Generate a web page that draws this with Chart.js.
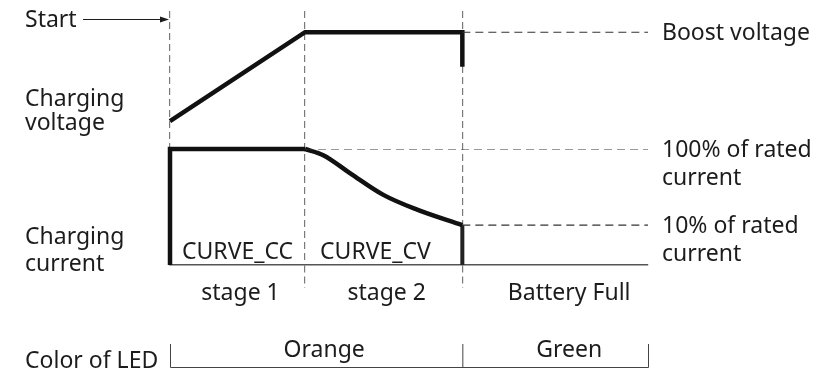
<!DOCTYPE html>
<html>
<head>
<meta charset="utf-8">
<title>Charging curve</title>
<script src="https://cdn.jsdelivr.net/npm/chart.js@4"></script>
<style>
  html, body { margin: 0; padding: 0; background: #fff; }
  canvas { display: block; }
</style>
</head>
<body>
<canvas id="chargeChart" width="834" height="372"></canvas>
<script>
// --- Data ---
// stage boundaries on the time axis (hours)
const stageEdges = [0, 2, 4.33];
const timeEnd = 7.08;
const stageNames = ['stage 1', 'stage 2', 'Battery Full'];
const curveNames = ['CURVE_CC', 'CURVE_CV'];
const ledNames = ['Orange', 'Green'];

// charging voltage (V)
const voltTimes = [0, 2, 4.33, 4.33];
const voltValues = [11.05, 14.4, 14.4, 13.1];
const boostVoltage = 14.4;

// charging current (% of rated), log scale so the floor is 3 %
const ccTimes = [0, 0, 2];
const ccValues = [3, 100, 100];
const cvTimes = [2, 2.27, 2.67, 3.16, 3.66, 4.33];
const cvValues = [100, 83, 48, 25, 16, 10];
const endTimes = [4.33, 4.33];
const endValues = [10, 3];
const currentLevels = [100, 10];

const pts = (xs, ys) => xs.map((x, i) => ({ x: x, y: ys[i] }));

const INK = '#1c1c1c';
const LINE = '#111';
const FONT = '23px "Noto Sans"';

// solid curve dataset
function curve(data, axis, extra) {
    return Object.assign({
        data: data,
        yAxisID: axis,
        borderColor: LINE,
        borderWidth: 4.5,
        pointRadius: 0,
        tension: 0,
        borderJoinStyle: 'miter',
        borderCapStyle: 'butt',
        clip: 6,
        fill: false
    }, extra || {});
}

// thin dashed reference line out to the right edge
function guide(from, value, axis) {
    return {
        data: pts([from, timeEnd], [value, value]),
        yAxisID: axis,
        borderColor: '#333',
        borderWidth: 1.2,
        borderDash: [8, 5],
        pointRadius: 0,
        fill: false
    };
}

// --- Text, arrow and LED bracket ---
const labelPlugin = {
    id: 'chargeLabels',
    afterDraw(chart) {
        const { ctx, chartArea: area, scales: { x, yV, yI } } = chart;
        const left = 25;
        const edgePx = stageEdges.map(v => x.getPixelForValue(v));
        const endPx = x.getPixelForValue(timeEnd);

        ctx.save();
        ctx.fillStyle = INK;
        ctx.strokeStyle = INK;
        ctx.font = FONT;
        ctx.textBaseline = 'alphabetic';
        ctx.textAlign = 'left';

        // Start arrow
        ctx.fillText('Start', left, area.top + 16);
        const ay = area.top + 8;
        ctx.lineWidth = 1;
        ctx.beginPath();
        ctx.moveTo(83, ay + 0.5);
        ctx.lineTo(edgePx[0] - 8, ay + 0.5);
        ctx.stroke();
        ctx.beginPath();
        ctx.moveTo(edgePx[0] - 1, ay + 0.5);
        ctx.lineTo(edgePx[0] - 10, ay - 2.5);
        ctx.lineTo(edgePx[0] - 10, ay + 3.5);
        ctx.closePath();
        ctx.fill();

        // axis titles on the left
        const vy = yV.getPixelForValue(voltValues[0]);
        ctx.fillText('Charging', left, vy - 15);
        ctx.fillText('voltage', left, vy + 9);
        ctx.fillText('Charging', left, area.bottom - 21);
        ctx.fillText('current', left, area.bottom + 6);

        // levels on the right
        const rx = area.right + 14;
        ctx.fillText('Boost voltage', rx, yV.getPixelForValue(boostVoltage) + 8);
        currentLevels.forEach(level => {
            const py = yI.getPixelForValue(level);
            ctx.fillText(level + '% of rated', rx, py + 8);
            ctx.fillText('current', rx, py + 36);
        });

        // curve names inside each stage
        ctx.fillText(curveNames[0], edgePx[0] + 12, area.bottom - 6);
        ctx.fillText(curveNames[1], edgePx[1] + 15, area.bottom - 6);

        // stage names under the axis
        ctx.textAlign = 'center';
        const bounds = edgePx.concat([endPx]);
        stageNames.forEach((name, i) => {
            const cx = (bounds[i] + bounds[i + 1]) / 2 + (i === 2 ? 14 : 3);
            ctx.fillText(name, cx, area.bottom + 35);
        });

        // LED colour bracket
        const top = area.bottom + 79;
        const base = area.bottom + 102;
        ctx.strokeStyle = '#444';
        ctx.lineWidth = 1;
        ctx.beginPath();
        ctx.moveTo(edgePx[0] + 0.5, top);
        ctx.lineTo(edgePx[0] + 0.5, base + 0.5);
        ctx.lineTo(endPx + 0.5, base + 0.5);
        ctx.lineTo(endPx + 0.5, top);
        ctx.moveTo(edgePx[2] + 0.5, top);
        ctx.lineTo(edgePx[2] + 0.5, base);
        ctx.stroke();

        ctx.fillText(ledNames[0], (edgePx[0] + edgePx[2]) / 2 + 8, area.bottom + 92);
        ctx.fillText(ledNames[1], (edgePx[2] + endPx) / 2 + 14, area.bottom + 92);
        ctx.textAlign = 'left';
        ctx.fillText('Color of LED', left, base + 1);
        ctx.restore();
    }
};

// --- Chart ---
const ctx = document.getElementById('chargeChart').getContext('2d');
const chargeChart = new Chart(ctx, {
    type: 'line',
    data: {
        datasets: [
            guide(stageEdges[2], boostVoltage, 'yV'),
            guide(stageEdges[1], currentLevels[0], 'yI'),
            guide(stageEdges[2], currentLevels[1], 'yI'),
            curve(pts(voltTimes, voltValues), 'yV'),
            curve(pts(ccTimes, ccValues), 'yI'),
            curve(pts(cvTimes, cvValues), 'yI', { cubicInterpolationMode: 'monotone' }),
            curve(pts(endTimes, endValues), 'yI', { borderColor: '#222', borderWidth: 4 })
        ]
    },
    options: {
        responsive: false,
        animation: false,
        layout: { padding: { left: 170, right: 186, top: 11, bottom: 84 } },
        plugins: { legend: { display: false }, tooltip: { enabled: false } },
        scales: {
            x: {
                type: 'linear',
                min: 0,
                max: timeEnd,
                afterBuildTicks: axis => { axis.ticks = stageEdges.map(v => ({ value: v })); },
                ticks: { display: false },
                grid: {
                    color: '#7a7a7a',
                    lineWidth: 1.2,
                    tickLength: 23,
                    tickColor: c => c.index === 0 ? 'rgba(0,0,0,0)' : '#7a7a7a',
                    tickBorderDash: [7, 4]
                },
                border: { display: true, color: '#555', width: 1.5, dash: [7, 4] }
            },
            yI: {
                type: 'logarithmic',
                min: 3,
                max: 100,
                position: 'left',
                stack: 'panels',
                stackWeight: 116,
                ticks: { display: false },
                grid: { display: false, drawTicks: false },
                border: { display: false }
            },
            yV: {
                type: 'linear',
                min: 10,
                max: 15.2,
                position: 'left',
                stack: 'panels',
                stackWeight: 138,
                ticks: { display: false },
                grid: { display: false, drawTicks: false },
                border: { display: false }
            }
        }
    },
    plugins: [labelPlugin]
});
</script>
</body>
</html>
